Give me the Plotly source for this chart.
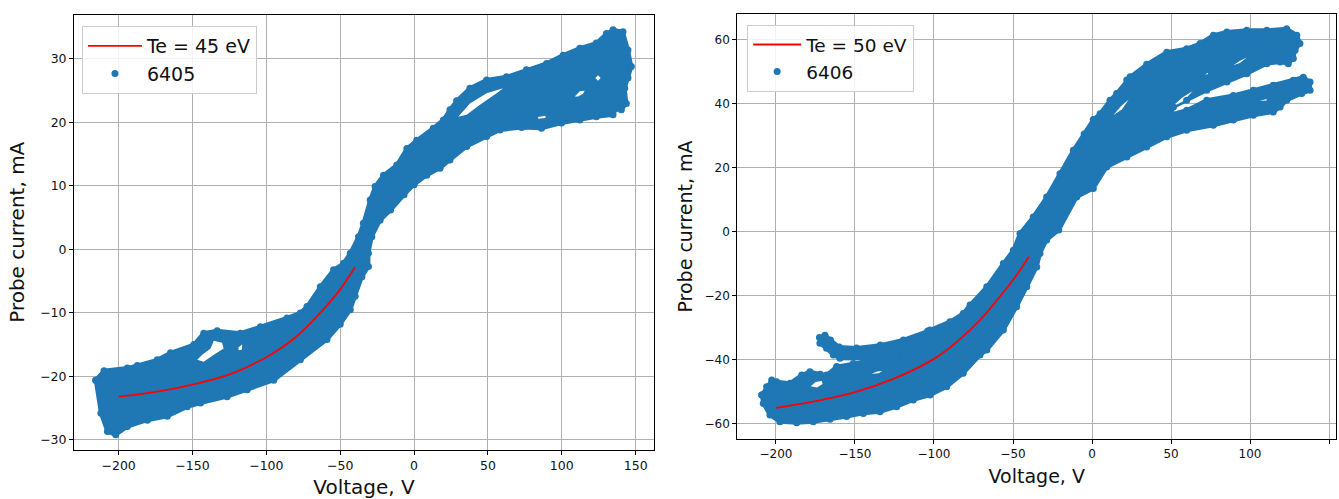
import plotly.graph_objects as go

BLUE = "#1f77b4"

# ---------------- Left panel (shot 6405) ----------------
# Outline of the dense scatter band (V, mA)
left_band_v = [-215.5, -209.9, -194.1, -187.4, -173.9, -164.9, -149.1, -142.4, -133.3, -117.6,
               -104.0, -86.0, -77.0, -72.5, -63.5, -54.5, -47.8, -43.2, -37.6, -34.3,
               -29.7, -26.4, -20.7, -11.7, -4.9, 1.8, 13.0, 19.8, 24.3, 28.8,
               37.8, 49.1, 62.6, 76.1, 89.7, 100.9, 112.2, 123.4, 130.2, 134.7,
               141.4, 144.8, 147.1, 144.8, 142.6, 143.7, 140.3, 136.9, 134.7, 123.4,
               112.2, 99.8, 86.3, 72.8, 58.1, 49.1, 35.6, 24.3, 17.6, 8.6,
               0.0, -6.8, -15.9, -23.0, -28.6, -30.9, -30.9, -35.3, -39.9, -43.2,
               -50.0, -59.0, -77.0, -95.0, -113.0, -126.6, -144.6, -153.6, -167.1, -180.6,
               -194.1, -202.0, -207.6, -212.0, -215.5]
left_band_i = [-20.6, -19.1, -18.7, -18.3, -17.4, -16.3, -15.0, -13.2, -12.8, -13.2,
               -12.2, -10.8, -10.0, -9.0, -5.9, -3.2, -2.2, -0.6, 2.0, 4.1,
               7.8, 9.9, 11.7, 13.3, 15.9, 17.2, 19.1, 20.4, 22.0, 23.4,
               25.4, 26.7, 27.2, 28.3, 29.3, 30.6, 31.7, 32.5, 34.0, 34.6,
               34.3, 31.4, 28.8, 27.0, 25.4, 23.0, 22.0, 22.2, 21.2, 20.9,
               20.4, 19.9, 19.1, 19.2, 18.8, 17.8, 16.2, 14.1, 12.8, 11.7,
               10.2, 8.6, 6.2, 4.6, 2.0, -0.6, -2.7, -4.3, -7.4, -9.5,
               -11.8, -14.2, -17.4, -20.6, -22.1, -23.2, -24.2, -24.8, -26.3, -26.9,
               -27.9, -29.2, -28.7, -25.8, -20.6]
# Empty pockets inside the band (None separates pockets)
left_holes_v = [-146.8, -142.4, -135.6, -128.9, -130.0, -135.6, -137.8, -143.4, None,
                29.9, 37.8, 49.1, 60.3, 55.9, 44.6, 35.6, None,
                122.7, 124.5, 126.3, 124.5, None,
                108.8, 112.2, 115.5, 114.4, 111.0, None,
                -118.8, -116.4, -116.6, -118.9, None,
                84.0, 89.0, 89.0, 84.0]
left_holes_i = [-17.4, -17.7, -16.6, -15.6, -14.7, -14.4, -15.6, -16.6, None,
                20.9, 23.0, 24.6, 25.4, 24.6, 22.8, 21.2, None,
                27.0, 27.45, 27.0, 26.55, None,
                24.1, 24.9, 25.0, 24.5, 24.1, None,
                -15.4, -15.0, -15.8, -15.9, None,
                20.85, 21.05, 20.7, 20.6]
# Exponential fit, Te = 45 eV
left_fit_v = [-200, -175, -150, -125, -100, -90, -80, -70, -60, -50, -45, -40]
left_fit_i = [-23.2, -22.45, -21.3, -19.7, -17.0, -15.55, -13.8, -11.6, -9.1, -6.3, -4.6, -2.8]

# ---------------- Right panel (shot 6406) ----------------
right_band_v = [-209.0, -205.9, -202.7, -199.6, -191.1, -183.7, -178.5, -172.0, -167.9, -161.6,
                -151.1, -138.4, -123.6, -115.2, -106.8, -102.5, -89.9, -81.5, -77.2, -66.6,
                -56.1, -49.8, -45.6, -37.2, -28.7, -20.3, -11.8, -5.0, 0.8, 5.1,
                11.4, 15.6, 22.0, 24.1, 34.6, 47.3, 59.9, 68.4, 76.8, 85.3,
                97.9, 110.6, 123.2, 129.6, 131.6, 128.5, 127.4, 124.2, 119.0, 110.6,
                97.9, 85.3, 72.6, 59.9, 51.5, 50.0, 59.9, 72.6, 89.4, 102.1,
                114.7, 127.4, 133.7, 138.0, 138.0, 132.7, 123.2, 119.0, 114.7, 102.1,
                89.4, 76.8, 59.9, 47.3, 34.6, 22.0, 9.3, 0.8, -9.7, -21.0,
                -28.7, -32.9, -35.0, -41.3, -47.7, -56.1, -66.6, -70.9, -81.5, -92.0,
                -102.5, -113.1, -123.6, -134.2, -144.7, -155.3, -165.8, -176.4, -186.9, -197.5,
                -203.8, -208.0, -209.0, None,
                -172.5, -169.0, -165.5, -160.0, -149.0, -134.0, -119.4, -104.0, -108.0, -119.4,
                -130.0, -144.7, -159.5, -163.7, -168.0, -172.2]
right_band_i = [-51.0, -48.4, -46.3, -46.8, -47.3, -44.7, -43.7, -44.5, -44.7, -42.1,
                -41.1, -40.1, -39.0, -37.5, -36.4, -30.7, -28.1, -25.5, -22.9, -17.2,
                -9.9, -5.8, -0.6, 4.6, 10.8, 18.1, 25.4, 30.5, 35.0, 36.8,
                41.0, 43.1, 47.3, 48.3, 52.2, 56.0, 57.1, 58.7, 61.3, 62.3,
                62.8, 62.8, 63.3, 61.3, 58.7, 56.6, 54.0, 52.4, 52.9, 52.4,
                49.3, 46.7, 44.1, 41.0, 38.9, 36.6, 37.9, 41.0, 42.5, 44.1,
                45.7, 47.2, 48.2, 46.7, 44.1, 43.1, 41.0, 38.9, 37.3, 36.3,
                34.8, 33.2, 31.6, 29.6, 26.4, 23.3, 20.2, 13.5, 10.8, 0.5,
                -2.6, -6.8, -11.0, -17.2, -23.4, -30.7, -36.9, -38.5, -44.2, -48.4,
                -51.0, -52.5, -54.6, -56.2, -56.7, -57.7, -58.5, -59.3, -59.6, -59.3,
                -57.2, -53.6, -51.0, None,
                -33.0, -32.3, -33.8, -36.0, -36.3, -35.4, -33.8, -31.0, -37.2, -38.0,
                -39.0, -39.6, -39.5, -38.5, -36.4, -34.8]
right_holes_v = [-178.0, -175.0, -171.0, -170.5, -174.0, None,
                 -139.5, -136.0, -132.8, -135.0, None,
                 13.5, 18.0, 23.2, 19.0, None,
                 50.4, 57.0, 63.7, 58.0, None,
                 89.4, 94.0, 98.0, 93.5, None,
                 71.5, 73.5, 73.3, None,
                 106.0, 110.5, 110.5]
right_holes_i = [-48.2, -46.9, -46.6, -47.5, -48.6, None,
                 -44.3, -43.6, -43.5, -44.2, None,
                 36.3, 39.0, 41.2, 38.2, None,
                 38.9, 41.8, 43.9, 40.8, None,
                 51.9, 53.4, 54.3, 52.6, None,
                 49.0, 49.6, 49.1, None,
                 40.8, 41.4, 40.9]
# Exponential fit, Te = 50 eV
right_fit_v = [-200, -175, -150, -125, -100, -90, -80, -70, -60, -50, -45, -40]
right_fit_i = [-55.0, -52.9, -50.1, -45.8, -39.7, -36.2, -32.0, -27.1, -21.3, -15.1, -11.6, -7.8]

x_ticks = [-200, -150, -100, -50, 0, 50, 100, 150]
left_y_ticks = [-30, -20, -10, 0, 10, 20, 30]
right_y_ticks = [-60, -40, -20, 0, 20, 40, 60]


def segments(xs, ys):
    """Split None-separated lists into separate closed outlines."""
    out, cx, cy = [], [], []
    for a, b in zip(xs, ys):
        if a is None:
            if cx:
                out.append((cx, cy))
            cx, cy = [], []
        else:
            cx.append(a)
            cy.append(b)
    if cx:
        out.append((cx, cy))
    return out


fig = go.Figure()


def add_panel(xa, ya, band_v, band_i, holes_v, holes_i, fit_v, fit_i, fit_name, shot, legend):
    for sx, sy in segments(band_v, band_i):
        fig.add_trace(go.Scatter(x=sx, y=sy, mode="lines", fill="toself",
                                 fillcolor=BLUE, line=dict(color=BLUE, width=4),
                                 showlegend=False, hoverinfo="skip",
                                 xaxis=xa, yaxis=ya))
    for sx, sy in segments(holes_v, holes_i):
        fig.add_trace(go.Scatter(x=sx, y=sy, mode="none", fill="toself",
                                 fillcolor="white", showlegend=False, hoverinfo="skip",
                                 xaxis=xa, yaxis=ya))
    fig.add_trace(go.Scatter(x=band_v, y=band_i, mode="markers", name=shot,
                             marker=dict(color=BLUE, size=7, line=dict(width=0)),
                             legend=legend, legendrank=2, xaxis=xa, yaxis=ya))
    fig.add_trace(go.Scatter(x=fit_v, y=fit_i, mode="lines", name=fit_name,
                             line=dict(color="red", width=1.8, shape="spline"),
                             legend=legend, legendrank=1, xaxis=xa, yaxis=ya))


add_panel("x", "y", left_band_v, left_band_i, left_holes_v, left_holes_i,
          left_fit_v, left_fit_i, "Te = 45 eV", "6405", "legend")
add_panel("x2", "y2", right_band_v, right_band_i, right_holes_v, right_holes_i,
          right_fit_v, right_fit_i, "Te = 50 eV", "6406", "legend2")

axis_common = dict(showline=True, linecolor="black", linewidth=1, mirror=True,
                   ticks="outside", ticklen=4, tickwidth=1, tickcolor="black",
                   showgrid=True, gridcolor="#b0b0b0", gridwidth=1, zeroline=False,
                   layer="above traces", automargin=False)
FONT = "DejaVu Sans"

fig.update_layout(
    width=1339, height=499,
    margin=dict(l=0, r=0, t=0, b=0),
    paper_bgcolor="white", plot_bgcolor="white",
    font=dict(family=FONT, color="#111111"),
    xaxis=dict(domain=[0.0553, 0.4884], range=[-230.2, 162.4], tickvals=x_ticks,
               tickfont=dict(size=12.5),
               title=dict(text="Voltage, V", font=dict(size=20), standoff=8),
               anchor="y", **axis_common),
    yaxis=dict(domain=[0.0982, 0.9709], range=[-31.6, 37.0], tickvals=left_y_ticks,
               tickfont=dict(size=12.5),
               title=dict(text="Probe current, mA", font=dict(size=20), standoff=10),
               anchor="x", **axis_common),
    xaxis2=dict(domain=[0.5506, 0.998], range=[-224.5, 154.6], tickvals=x_ticks,
                tickfont=dict(size=12),
                title=dict(text="Voltage, V", font=dict(size=19), standoff=9),
                anchor="y2", **axis_common),
    yaxis2=dict(domain=[0.1202, 0.9719], range=[-64.7, 67.9], tickvals=right_y_ticks,
                tickfont=dict(size=12),
                title=dict(text="Probe current, mA", font=dict(size=19), standoff=6),
                anchor="x2", **axis_common),
    legend=dict(x=0.0612, y=0.948, xanchor="left", yanchor="top", itemwidth=54,
                bgcolor="rgba(255,255,255,0.85)", bordercolor="#cccccc", borderwidth=1,
                font=dict(size=19, family=FONT, color="#111111"), tracegroupgap=0),
    legend2=dict(x=0.558, y=0.95, xanchor="left", yanchor="top", itemwidth=48,
                 bgcolor="rgba(255,255,255,0.85)", bordercolor="#cccccc", borderwidth=1,
                 font=dict(size=18.5, family=FONT, color="#111111"), tracegroupgap=0),
)

fig.write_html("out.html")
